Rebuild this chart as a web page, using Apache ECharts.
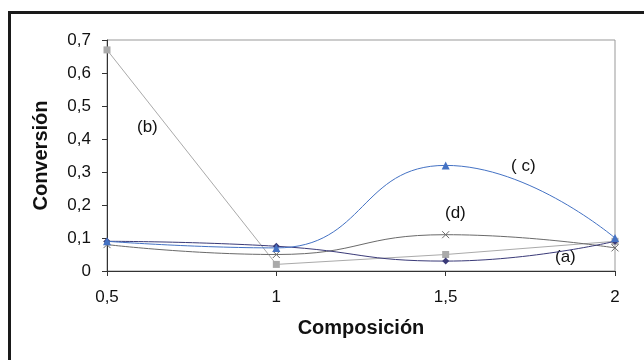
<!DOCTYPE html>
<html><head><meta charset="utf-8">
<script src="https://cdn.jsdelivr.net/npm/echarts@6/dist/echarts.min.js"></script>
<style>html,body{margin:0;padding:0;background:#fff}#c{width:644px;height:360px}</style>
</head><body><div id="c"></div>
<script>
const composicion = [0.5, 1, 1.5, 2];
const serieA = [0.09, 0.075, 0.03, 0.09];
const serieB = [0.67, 0.02, 0.05, 0.09];
const serieC = [0.09, 0.07, 0.32, 0.10];
const serieD = [0.08, 0.05, 0.11, 0.07];
const yTicks = [0, 0.1, 0.2, 0.3, 0.4, 0.5, 0.6, 0.7];
const pairs = v => composicion.map((x, i) => [x, v[i]]);
const fmt = v => String(+v.toFixed(2)).replace('.', ',');
const FONT = 'Liberation Sans';
const chart = echarts.init(document.getElementById('c'));
const xPath = 'path://M0,0L10,10M10,0L0,10';
chart.setOption({
  animation: false,
  backgroundColor: '#fff',
  grid: { left: 107, right: 29, top: 40, bottom: 89, show: true, borderColor: '#999', borderWidth: 1 },
  xAxis: {
    type: 'value', min: 0.5, max: 2, interval: 0.5,
    name: 'Composición', nameLocation: 'middle', nameGap: 47,
    nameTextStyle: { fontFamily: FONT, fontWeight: 'bold', fontSize: 20, color: '#111' },
    axisLine: { lineStyle: { color: '#333', width: 1 } },
    axisTick: { show: true, length: 5, inside: false, lineStyle: { color: '#333' } },
    axisLabel: { margin: 18, fontFamily: FONT, fontSize: 17, color: '#111', formatter: fmt },
    splitLine: { show: false }
  },
  yAxis: {
    type: 'value', min: yTicks[0], max: yTicks[yTicks.length - 1], interval: 0.1,
    name: 'Conversión', nameLocation: 'middle', nameGap: 56, nameRotate: 90,
    nameTextStyle: { fontFamily: FONT, fontWeight: 'bold', fontSize: 20, color: '#111' },
    axisLine: { show: true, lineStyle: { color: '#333', width: 1 } },
    axisTick: { show: true, length: 5, lineStyle: { color: '#333' } },
    axisLabel: { margin: 16, fontFamily: FONT, fontSize: 17, color: '#111', formatter: fmt },
    splitLine: { show: false }
  },
  series: [
    { name: '(b)', type: 'line', data: pairs(serieB), smooth: false, symbol: 'rect', symbolSize: 7,
      lineStyle: { color: '#aaaaaa', width: 1 }, itemStyle: { color: '#aaaaaa' }, z: 2 },
    { name: '(d)', type: 'line', data: pairs(serieD), smooth: 0.5, symbol: xPath, symbolSize: 7,
      lineStyle: { color: '#6a6a6a', width: 1 }, itemStyle: { color: 'none', borderColor: '#6a6a6a', borderWidth: 1 }, z: 3 },
    { name: '(a)', type: 'line', data: pairs(serieA), smooth: 0.5, symbol: 'diamond', symbolSize: 7,
      lineStyle: { color: '#3a3a78', width: 1 }, itemStyle: { color: '#3a3a78' }, z: 4 },
    { name: '(c)', type: 'line', data: pairs(serieC), smooth: 0.5, symbol: 'triangle', symbolSize: 8,
      lineStyle: { color: '#4472c4', width: 1 }, itemStyle: { color: '#4472c4' }, z: 5 }
  ],
  graphic: [
    { type: 'rect', left: 7, top: 10, shape: { x: 0, y: 0, width: 700, height: 400 },
      style: { fill: 'none', stroke: '#1a1a1a', lineWidth: 3 }, silent: true },
    { type: 'text', left: 137, top: 119, style: { text: '(b)', font: '17px "Liberation Sans"', fill: '#111' } },
    { type: 'text', left: 511, top: 158, style: { text: '( c)', font: '17px "Liberation Sans"', fill: '#111' } },
    { type: 'text', left: 445, top: 205, style: { text: '(d)', font: '17px "Liberation Sans"', fill: '#111' } },
    { type: 'text', left: 555, top: 249, style: { text: '(a)', font: '17px "Liberation Sans"', fill: '#111' } }
  ]
});
</script></body></html>
